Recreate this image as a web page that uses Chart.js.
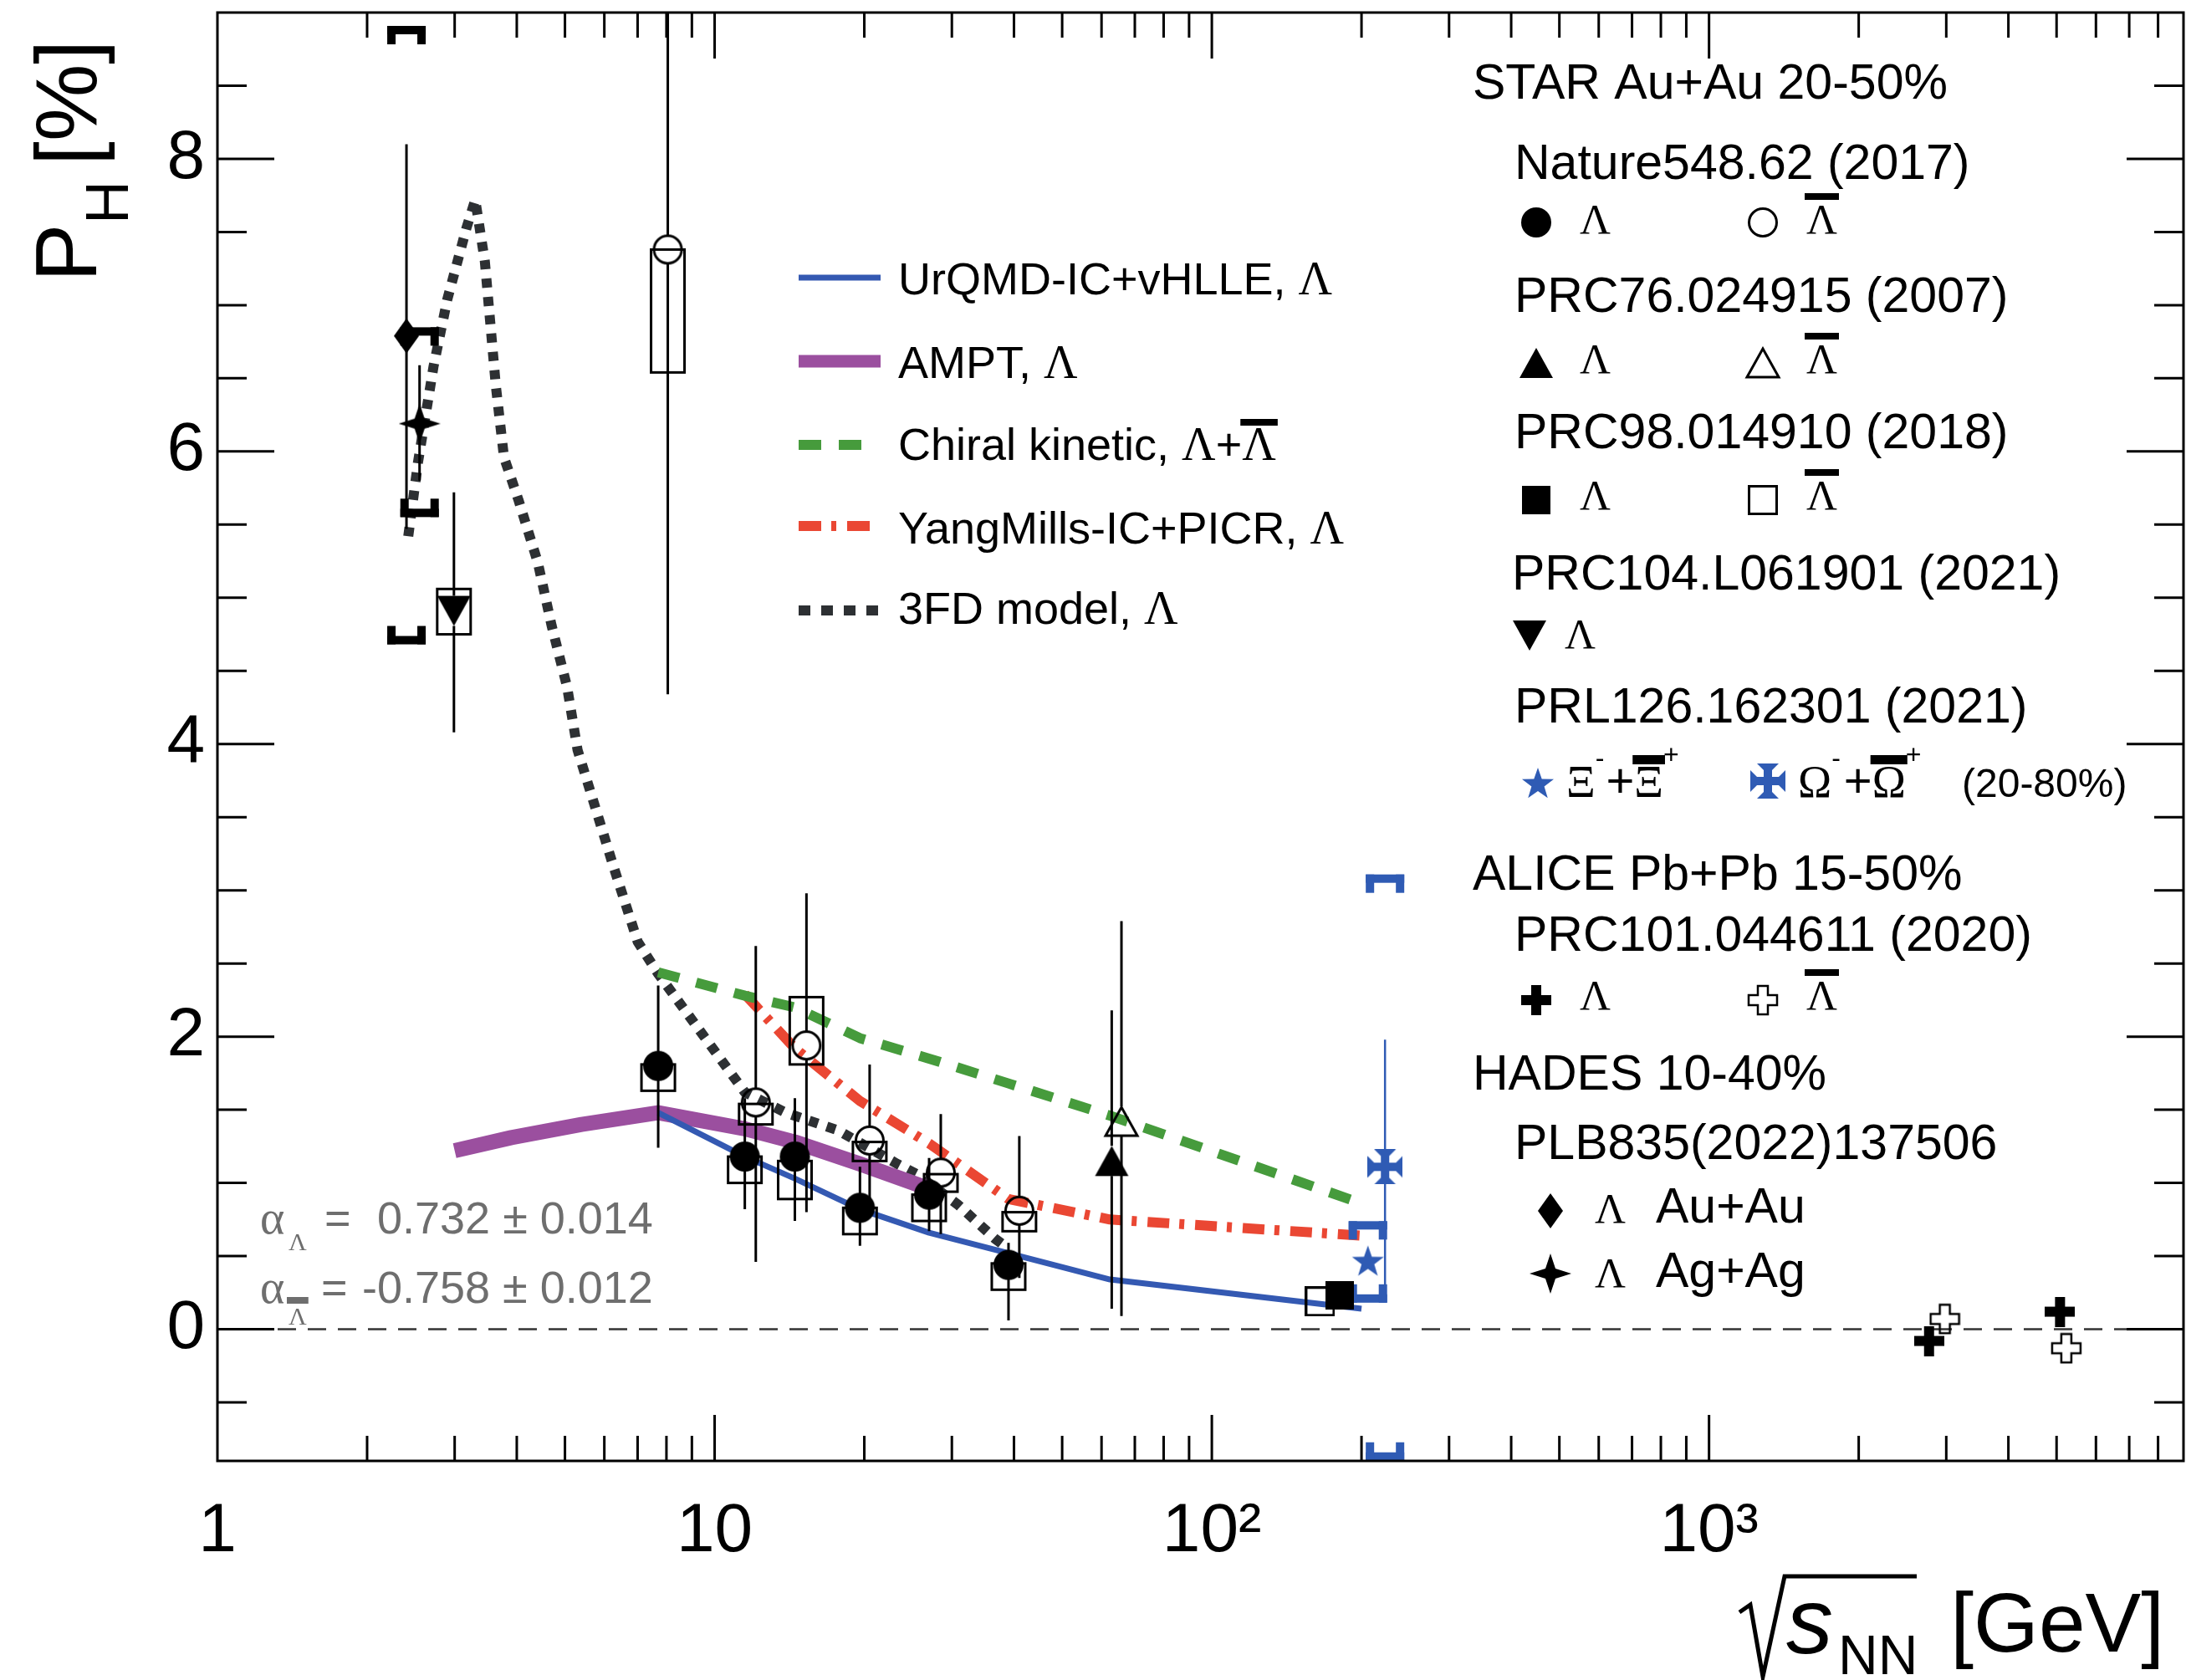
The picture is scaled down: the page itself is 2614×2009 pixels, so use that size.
<!DOCTYPE html>
<html>
<head>
<meta charset="utf-8">
<script src="https://cdn.jsdelivr.net/npm/chart.js@4.4.0/dist/chart.umd.min.js"></script>
<style>
  html, body { margin: 0; padding: 0; background: #fff; }
</style>
</head>
<body>
<canvas id="polChart" width="2614" height="2009"></canvas>
<script>
// ---------- data ----------
// STAR Au+Au 20-50%, Nature 548, 62 (2017)
const starLamX      = [7.7, 11.5, 14.5, 19.6, 27, 39];
const starLamY      = [1.80, 1.18, 1.18, 0.83, 0.92, 0.44];
const starLamStatLo = [1.24, 0.82, 0.74, 0.57, 0.67, 0.06];
const starLamStatHi = [2.35, 1.58, 1.58, 1.11, 1.17, 0.59];
const starLamSysLo  = [1.63, 1.00, 0.89, 0.65, 0.74, 0.27];
const starLamSysHi  = [1.81, 1.18, 1.15, 0.83, 0.92, 0.45];

const starBarX      = [8.05, 12.1, 15.3, 20.5, 28.5, 41];
const starBarY      = [7.38, 1.55, 1.94, 1.29, 1.07, 0.81];
const starBarStatLo = [4.34, 0.46, 0.80, 0.88, 0.65, 0.35];
const starBarStatHi = [10.4, 2.62, 2.98, 1.81, 1.47, 1.32];
const starBarSysLo  = [6.54, 1.40, 1.81, 1.15, 0.94, 0.67];
const starBarSysHi  = [7.38, 1.54, 2.27, 1.28, 1.06, 0.80];

// PRC76.024915 (2007), 62.4 GeV
const prc76LamX = [62.9], prc76LamY = [1.15], prc76LamLo = [0.14], prc76LamHi = [2.18];
const prc76BarX = [65.8], prc76BarY = [1.42], prc76BarLo = [0.09], prc76BarHi = [2.79];

// PRC98.014910 (2018), 200 GeV
const prc98LamX = [181], prc98LamY = [0.23];
const prc98BarX = [165], prc98BarY = [0.19];

// PRC104.L061901 (2021), 3 GeV
const prc104X = [2.99], prc104Y = [4.91], prc104StatLo = [4.08], prc104StatHi = [5.72];
const prc104SysLo = [4.75], prc104SysHi = [5.06];

// PRL126.162301 (2021), Xi and Omega
const xiX = [206], xiY = [0.47], xiSysLo = [0.21], xiSysHi = [0.71];
const omX = [223], omY = [1.11], omStatLo = [0.30], omStatHi = [1.98];
const omSysLo = [-0.87], omSysHi = [3.08];

// ALICE Pb+Pb 15-50%
const aliceLamX = [2770, 5080], aliceLamY = [-0.08, 0.12];
const aliceBarX = [2980, 5230], aliceBarY = [0.07, -0.13];

// HADES 10-40%
const hadesAuX = [2.4], hadesAuY = [6.79], hadesAuStatLo = [5.47], hadesAuStatHi = [8.10];
const hadesAuSysLo = [4.71], hadesAuSysHi = [8.88];
const hadesAgX = [2.55], hadesAgY = [6.19], hadesAgStatLo = [5.80], hadesAgStatHi = [6.59];
const hadesAgSysLo = [5.58], hadesAgSysHi = [6.82];

// model curves
const urqmdX = [7.7, 11.5, 14.5, 19.6, 27, 39, 62.4, 200];
const urqmdY = [1.48, 1.18, 1.03, 0.82, 0.66, 0.52, 0.34, 0.14];
const amptX = [3.0, 3.9, 5.4, 7.7, 11.5, 14.5, 19.6, 27];
const amptY = [1.22, 1.31, 1.40, 1.48, 1.37, 1.28, 1.13, 0.96];
const chiralX = [7.7, 11.5, 14.5, 19.6, 27, 39, 62.4, 200];
const chiralY = [2.44, 2.28, 2.20, 1.99, 1.85, 1.68, 1.46, 0.86];
const ymX = [11.5, 14.5, 19.6, 27, 39, 62.4, 200];
const ymY = [2.29, 1.92, 1.56, 1.27, 0.89, 0.75, 0.64];
const fdX = [2.42, 2.53, 2.72, 2.9, 3.17, 3.3, 3.45, 3.63, 3.77, 4.03, 4.41, 4.7, 5.05, 5.3,
             6.25, 7.0, 7.7, 11.5, 13.9, 17.7, 23.3, 25.5, 30.9, 36.6, 39];
const fdY = [5.42, 5.92, 6.58, 7.04, 7.53, 7.72, 7.3, 6.45, 5.96, 5.67, 5.24, 4.81, 4.39, 3.96,
             3.17, 2.65, 2.43, 1.62, 1.48, 1.36, 1.13, 1.06, 0.85, 0.62, 0.55];

// axes
const xTickVals = [1, 10, 100, 1000];
const xTickText = ['1', '10', '10\u00b2', '10\u00b3'];
const yTickVals = [0, 2, 4, 6, 8];

// ---------- styles ----------
const SANS = '"Liberation Sans", Arial, Helvetica, sans-serif';
const SERIF = '"Liberation Serif", "Times New Roman", serif';
const BLUE = '#2f5bb4';
const C_URQMD = '#3459b2', C_AMPT = '#9b4f9f', C_CHIRAL = '#469b3c', C_YM = '#ea4733', C_FD = '#2d3033';

function pts(xs, ys) { return xs.map((x, i) => ({ x: x, y: ys[i] })); }

function mk(w, h, paint) {
  const c = document.createElement('canvas');
  c.width = w; c.height = h;
  const g = c.getContext('2d');
  paint(g, w, h);
  return c;
}
function poly(g, p) {
  g.beginPath();
  g.moveTo(p[0][0], p[0][1]);
  for (let i = 1; i < p.length; i++) g.lineTo(p[i][0], p[i][1]);
  g.closePath();
}

const M = {
  fCircle: mk(38, 38, g => { g.fillStyle = '#000'; g.beginPath(); g.arc(19, 19, 18, 0, 2 * Math.PI); g.fill(); }),
  oCircle: mk(38, 38, g => { g.strokeStyle = '#000'; g.lineWidth = 3; g.beginPath(); g.arc(19, 19, 16.5, 0, 2 * Math.PI); g.stroke(); }),
  fTri: mk(42, 38, g => { g.fillStyle = '#000'; poly(g, [[21, 1], [41, 37], [1, 37]]); g.fill(); }),
  oTri: mk(44, 40, g => { g.strokeStyle = '#000'; g.lineWidth = 3; poly(g, [[22, 3], [41, 37], [3, 37]]); g.stroke(); }),
  fTriDown: mk(42, 38, g => { g.fillStyle = '#000'; poly(g, [[1, 1], [41, 1], [21, 37]]); g.fill(); }),
  fSquare: mk(34, 34, g => { g.fillStyle = '#000'; g.fillRect(0, 0, 34, 34); }),
  oSquare: mk(36, 36, g => { g.strokeStyle = '#000'; g.lineWidth = 3; g.strokeRect(1.5, 1.5, 33, 33); }),
  diamond: mk(30, 42, g => { g.fillStyle = '#000'; poly(g, [[15, 0], [30, 21], [15, 42], [0, 21]]); g.fill(); }),
  star4: mk(50, 48, g => {
    g.fillStyle = '#000';
    poly(g, [[25, 0], [31, 18], [50, 24], [31, 30], [25, 48], [19, 30], [0, 24], [19, 18]]);
    g.fill();
  }),
  xiStar: mk(40, 40, g => {
    const p = [];
    for (let k = 0; k < 10; k++) {
      const r = k % 2 === 0 ? 20 : 8;
      const a = -Math.PI / 2 + k * Math.PI / 5;
      p.push([20 + r * Math.cos(a), 22 + r * Math.sin(a)]);
    }
    g.fillStyle = BLUE; poly(g, p); g.fill();
  }),
  omCross: mk(42, 42, g => {
    g.fillStyle = BLUE;
    const arm = [[0, -5], [13, -5], [21, -13], [21, 13], [13, 5], [0, 5]];
    for (let k = 0; k < 4; k++) {
      const a = k * Math.PI / 2, c = Math.cos(a), s = Math.sin(a);
      poly(g, arm.map(q => [21 + q[0] * c - q[1] * s, 21 + q[0] * s + q[1] * c]));
      g.fill();
    }
  }),
  fCross: mk(36, 36, g => { g.fillStyle = '#000'; g.fillRect(12, 0, 12, 36); g.fillRect(0, 12, 36, 12); }),
  oCross: mk(38, 38, g => {
    g.strokeStyle = '#000'; g.lineWidth = 2.5;
    poly(g, [[13, 2], [25, 2], [25, 13], [36, 13], [36, 25], [25, 25], [25, 36], [13, 36], [13, 25], [2, 25], [2, 13], [13, 13]]);
    g.stroke();
  })
};

function markerSet(label, xs, ys, style, extra) {
  return Object.assign({
    label: label, data: pts(xs, ys), pointStyle: style, pointRadius: 12,
    showLine: false, order: 0
  }, extra || {});
}
function curve(label, xs, ys, color, width, dash) {
  return {
    label: label, data: pts(xs, ys), showLine: true, pointRadius: 0,
    borderColor: color, borderWidth: width, borderDash: dash, borderCapStyle: 'butt',
    borderJoinStyle: 'round', fill: false, tension: 0, order: 1
  };
}

// ---------- plugins ----------
function bracket(ctx, px, py, dir) {
  const hw = 23, t = 10, leg = 22;
  ctx.fillRect(px - hw, py - t / 2, 2 * hw, t);
  const y0 = dir > 0 ? py - t / 2 : py + t / 2 - leg;
  ctx.fillRect(px - hw, y0, t, leg);
  ctx.fillRect(px + hw - t, y0, t, leg);
}

const errorBars = {
  id: 'errorBars',
  beforeDatasetDraw(chart, args) {
    const ds = chart.data.datasets[args.index];
    if (!ds.statLo && !ds.sysLo) return;
    const { ctx, chartArea: a, scales: { x, y } } = chart;
    ctx.save();
    ctx.beginPath(); ctx.rect(a.left, a.top, a.right - a.left, a.bottom - a.top); ctx.clip();
    ctx.strokeStyle = ds.errColor || '#000';
    ctx.fillStyle = ds.errColor || '#000';
    ds.data.forEach((p, i) => {
      const px = x.getPixelForValue(p.x), py = y.getPixelForValue(p.y);
      if (ds.statLo) {
        const r = ds.gapR || 0;
        const yHi = y.getPixelForValue(ds.statHi[i]), yLo = y.getPixelForValue(ds.statLo[i]);
        ctx.lineWidth = ds.errWidth || 3;
        ctx.beginPath();
        if (yHi < py - r) { ctx.moveTo(px, yHi); ctx.lineTo(px, py - r); }
        if (yLo > py + r) { ctx.moveTo(px, py + r); ctx.lineTo(px, yLo); }
        ctx.stroke();
      }
      if (ds.sysLo) {
        const yHi = y.getPixelForValue(ds.sysHi[i]), yLo = y.getPixelForValue(ds.sysLo[i]);
        if (ds.sysStyle === 'bracket') {
          bracket(ctx, px, yHi, 1);
          bracket(ctx, px, yLo, -1);
        } else {
          ctx.lineWidth = 3;
          ctx.strokeRect(px - 20, yHi, 40, yLo - yHi);
        }
      }
    });
    ctx.restore();
  }
};

const frameTicks = {
  id: 'frameTicks',
  afterDatasetsDraw(chart) {
    const { ctx, chartArea: a, scales: { x, y } } = chart;
    ctx.save();
    ctx.strokeStyle = '#000';
    ctx.lineWidth = 3;
    ctx.strokeRect(a.left, a.top, a.right - a.left, a.bottom - a.top);
    ctx.beginPath();
    [1, 10, 100, 1000].forEach(d => {
      for (let k = 1; k <= 9; k++) {
        const v = k * d;
        if (v <= x.min || v >= x.max) continue;
        const px = x.getPixelForValue(v);
        const len = k === 1 ? 55 : 30;
        ctx.moveTo(px, a.bottom); ctx.lineTo(px, a.bottom - len);
        ctx.moveTo(px, a.top); ctx.lineTo(px, a.top + len);
      }
    });
    for (let v = -0.5; v < y.max - 1e-6; v += 0.5) {
      const py = y.getPixelForValue(v);
      const len = (Math.round(v * 2) % 4 === 0) ? 68 : 35;
      ctx.moveTo(a.left, py); ctx.lineTo(a.left + len, py);
      ctx.moveTo(a.right, py); ctx.lineTo(a.right - len, py);
    }
    ctx.stroke();
    ctx.restore();
  }
};

// text pieces drawn one after the other
function run(ctx, x, y, parts) {
  let cx = x;
  parts.forEach(p => {
    ctx.font = p.f;
    const yy = y + (p.dy || 0);
    ctx.fillText(p.t, cx, yy);
    const w = ctx.measureText(p.t).width;
    if (p.bar) ctx.fillRect(cx - 2, yy + p.bar[0], w + 4, p.bar[1]);
    cx += w + (p.gap || 0);
  });
  return cx;
}
function mark(ctx, m, x, y) { ctx.drawImage(m, x - m.width / 2, y - m.height / 2); }

const annotations = {
  id: 'annotations',
  afterDraw(chart) {
    const ctx = chart.ctx;
    ctx.save();
    ctx.textAlign = 'left';
    ctx.textBaseline = 'alphabetic';
    ctx.fillStyle = '#000';

    // y title
    ctx.save();
    ctx.translate(115, 337);
    ctx.rotate(-Math.PI / 2);
    ctx.font = '104px ' + SANS;
    ctx.fillText('P', 0, 0);
    ctx.font = '72px ' + SANS;
    ctx.fillText('H', 69, 38);
    ctx.font = '104px ' + SANS;
    ctx.fillText('[%]', 139, 0);
    ctx.restore();

    // x title
    ctx.lineWidth = 5;
    ctx.strokeStyle = '#000';
    ctx.beginPath();
    ctx.moveTo(2080, 1928); ctx.lineTo(2093, 1919); ctx.lineTo(2108, 2005);
    ctx.lineTo(2134, 1885); ctx.lineTo(2292, 1885);
    ctx.stroke();
    ctx.font = 'italic 112px ' + SANS;
    ctx.fillText('s', 2136, 1977);
    ctx.font = '66px ' + SANS;
    ctx.fillText('NN', 2198, 2002);
    ctx.font = '100px ' + SANS;
    ctx.textAlign = 'right';
    ctx.fillText('[GeV]', 2588, 1975);
    ctx.textAlign = 'left';

    // model legend
    const lg = [
      { c: C_URQMD, w: 7, d: [], y: 332, x2: 1053 },
      { c: C_AMPT, w: 15, d: [], y: 432, x2: 1053 },
      { c: C_CHIRAL, w: 12, d: [27, 21], y: 532, x2: 1031 },
      { c: C_YM, w: 12, d: [27, 12, 6, 13], y: 629, x2: 1041 },
      { c: C_FD, w: 12, d: [14, 13], y: 730, x2: 1054 }
    ];
    lg.forEach(l => {
      ctx.strokeStyle = l.c; ctx.lineWidth = l.w; ctx.setLineDash(l.d); ctx.lineCap = 'butt';
      ctx.beginPath(); ctx.moveTo(955, l.y); ctx.lineTo(l.x2, l.y); ctx.stroke();
    });
    ctx.setLineDash([]);
    const F53 = '54px ' + SANS, G56 = '56px ' + SERIF;
    run(ctx, 1074, 352, [{ t: 'UrQMD-IC+vHLLE, ', f: F53 }, { t: 'Λ', f: G56 }]);
    run(ctx, 1074, 452, [{ t: 'AMPT, ', f: F53 }, { t: 'Λ', f: G56 }]);
    run(ctx, 1074, 550, [{ t: 'Chiral kinetic, ', f: F53 }, { t: 'Λ', f: G56 }, { t: '+', f: F53 },
      { t: 'Λ', f: G56, bar: [-49, 8] }]);
    run(ctx, 1074, 650, [{ t: 'YangMills-IC+PICR, ', f: F53 }, { t: 'Λ', f: G56 }]);
    run(ctx, 1074, 746, [{ t: '3FD model, ', f: F53 }, { t: 'Λ', f: G56 }]);

    // data legend (right)
    const H = '59px ' + SANS, G = '51px ' + SERIF;
    const lam = (x, y) => run(ctx, x, y, [{ t: 'Λ', f: G }]);
    const lamBar = (x, y) => run(ctx, x, y, [{ t: 'Λ', f: G, bar: [-48, 8] }]);
    run(ctx, 1761, 118, [{ t: 'STAR Au+Au 20-50%', f: H }]);
    run(ctx, 1811, 214, [{ t: 'Nature548.62 (2017)', f: H }]);
    mark(ctx, M.fCircle, 1837, 266); lam(1889, 279);
    mark(ctx, M.oCircle, 2108, 266); lamBar(2160, 279);
    run(ctx, 1811, 373, [{ t: 'PRC76.024915 (2007)', f: H }]);
    mark(ctx, M.fTri, 1837, 434); lam(1889, 446);
    mark(ctx, M.oTri, 2108, 434); lamBar(2160, 446);
    run(ctx, 1811, 536, [{ t: 'PRC98.014910 (2018)', f: H }]);
    mark(ctx, M.fSquare, 1837, 598); lam(1889, 609);
    mark(ctx, M.oSquare, 2108, 598); lamBar(2160, 609);
    run(ctx, 1808, 705, [{ t: 'PRC104.L061901 (2021)', f: H }]);
    mark(ctx, M.fTriDown, 1829, 760); lam(1871, 775);
    run(ctx, 1811, 864, [{ t: 'PRL126.162301 (2021)', f: H }]);
    mark(ctx, M.xiStar, 1839, 936);
    const S30 = '32px ' + SANS, GX = '54px ' + SERIF, PL = '58px ' + SANS;
    run(ctx, 1873, 953, [{ t: 'Ξ', f: GX }, { t: '-', f: S30, dy: -36, gap: 2 }, { t: '+', f: PL },
      { t: 'Ξ', f: GX, bar: [-50, 11] }, { t: '+', f: S30, dy: -40 }]);
    mark(ctx, M.omCross, 2114, 934);
    run(ctx, 2150, 953, [{ t: 'Ω', f: GX }, { t: '-', f: S30, dy: -36, gap: 4 }, { t: '+', f: PL },
      { t: 'Ω', f: GX, bar: [-50, 11] }, { t: '+', f: S30, dy: -40 }]);
    run(ctx, 2346, 953, [{ t: '(20-80%)', f: '48px ' + SANS }]);
    run(ctx, 1761, 1064, [{ t: 'ALICE Pb+Pb 15-50%', f: H }]);
    run(ctx, 1811, 1137, [{ t: 'PRC101.044611 (2020)', f: H }]);
    mark(ctx, M.fCross, 1837, 1196); lam(1889, 1207);
    mark(ctx, M.oCross, 2108, 1196); lamBar(2160, 1207);
    run(ctx, 1761, 1303, [{ t: 'HADES 10-40%', f: H }]);
    run(ctx, 1811, 1386, [{ t: 'PLB835(2022)137506', f: H }]);
    mark(ctx, M.diamond, 1854, 1448); lam(1907, 1462);
    run(ctx, 1980, 1462, [{ t: 'Au+Au', f: H }]);
    mark(ctx, M.star4, 1854, 1523); lam(1907, 1539);
    run(ctx, 1980, 1539, [{ t: 'Ag+Ag', f: H }]);

    // decay parameters
    ctx.fillStyle = '#6e6e6e';
    const A = '54px ' + SANS;
    run(ctx, 311, 1475, [{ t: 'α', f: '56px ' + SERIF }]);
    run(ctx, 345, 1495, [{ t: 'Λ', f: '30px ' + SERIF }]);
    run(ctx, 388, 1475, [{ t: '=', f: A }]);
    run(ctx, 451, 1475, [{ t: '0.732 ± 0.014', f: A }]);
    run(ctx, 311, 1558, [{ t: 'α', f: '56px ' + SERIF }]);
    run(ctx, 345, 1584, [{ t: 'Λ', f: '30px ' + SERIF, bar: [-33, 8] }]);
    run(ctx, 384, 1558, [{ t: '=', f: A }]);
    run(ctx, 433, 1558, [{ t: '-0.758 ± 0.012', f: A }]);
    ctx.restore();
  }
};

// ---------- chart ----------
const ctx = document.getElementById('polChart').getContext('2d');

const polChart = new Chart(ctx, {
  type: 'scatter',
  data: {
    datasets: [
      markerSet('STAR Lambda', starLamX, starLamY, M.fCircle,
        { statLo: starLamStatLo, statHi: starLamStatHi, sysLo: starLamSysLo, sysHi: starLamSysHi, gapR: 17 }),
      markerSet('STAR AntiLambda', starBarX, starBarY, M.oCircle,
        { statLo: starBarStatLo, statHi: starBarStatHi, sysLo: starBarSysLo, sysHi: starBarSysHi, gapR: 17 }),
      markerSet('PRC76 Lambda', prc76LamX, prc76LamY, M.fTri, { statLo: prc76LamLo, statHi: prc76LamHi, gapR: 18 }),
      markerSet('PRC76 AntiLambda', prc76BarX, prc76BarY, M.oTri, { statLo: prc76BarLo, statHi: prc76BarHi, gapR: 18 }),
      markerSet('PRC98 Lambda', prc98LamX, prc98LamY, M.fSquare),
      markerSet('PRC98 AntiLambda', prc98BarX, prc98BarY, M.oSquare),
      markerSet('PRC104 Lambda', prc104X, prc104Y, M.fTriDown,
        { statLo: prc104StatLo, statHi: prc104StatHi, sysLo: prc104SysLo, sysHi: prc104SysHi, gapR: 18 }),
      markerSet('Xi', xiX, xiY, M.xiStar, { sysLo: xiSysLo, sysHi: xiSysHi, sysStyle: 'bracket', errColor: BLUE }),
      markerSet('Omega', omX, omY, M.omCross,
        { statLo: omStatLo, statHi: omStatHi, sysLo: omSysLo, sysHi: omSysHi, sysStyle: 'bracket',
          errColor: BLUE, errWidth: 2.5, gapR: 0 }),
      markerSet('ALICE Lambda', aliceLamX, aliceLamY, M.fCross),
      markerSet('ALICE AntiLambda', aliceBarX, aliceBarY, M.oCross),
      markerSet('HADES Au+Au', hadesAuX, hadesAuY, M.diamond,
        { statLo: hadesAuStatLo, statHi: hadesAuStatHi, sysLo: hadesAuSysLo, sysHi: hadesAuSysHi,
          sysStyle: 'bracket', gapR: 0 }),
      markerSet('HADES Ag+Ag', hadesAgX, hadesAgY, M.star4,
        { statLo: hadesAgStatLo, statHi: hadesAgStatHi, sysLo: hadesAgSysLo, sysHi: hadesAgSysHi,
          sysStyle: 'bracket', gapR: 0 }),
      curve('UrQMD-IC+vHLLE', urqmdX, urqmdY, C_URQMD, 7, []),
      curve('AMPT', amptX, amptY, C_AMPT, 18, []),
      curve('Chiral kinetic', chiralX, chiralY, C_CHIRAL, 12, [26, 21]),
      curve('YangMills-IC+PICR', ymX, ymY, C_YM, 12, [26, 12, 6, 13]),
      curve('3FD model', fdX, fdY, C_FD, 12, [11, 11]),
      Object.assign(curve('zero', [1, 9000], [0, 0], '#333', 2.5, [22, 14]), { order: 2 })
    ]
  },
  options: {
    responsive: false,
    devicePixelRatio: 1,
    animation: false,
    events: [],
    layout: { autoPadding: false, padding: { top: 15, right: 3, bottom: 0, left: 0 } },
    plugins: {
      legend: { display: false },
      tooltip: { enabled: false }
    },
    scales: {
      x: {
        type: 'logarithmic',
        position: 'bottom',
        min: 1,
        max: 9000,
        grid: { display: false, drawTicks: false },
        border: { display: false },
        ticks: {
          color: '#000',
          padding: 36,
          maxRotation: 0,
          autoSkip: false,
          font: { family: SANS, size: 82 },
          callback: function (value, index) { return xTickText[index]; }
        },
        afterBuildTicks: function (scale) { scale.ticks = xTickVals.map(v => ({ value: v })); },
        afterFit: function (scale) { scale.height = 262; scale.paddingLeft = 0; scale.paddingRight = 0; }
      },
      y: {
        type: 'linear',
        min: -0.9,
        max: 9.0,
        grid: { display: false, drawTicks: false },
        border: { display: false },
        ticks: {
          color: '#000',
          padding: 15,
          font: { family: SANS, size: 82 }
        },
        afterBuildTicks: function (scale) { scale.ticks = yTickVals.map(v => ({ value: v })); },
        afterFit: function (scale) { scale.width = 260; scale.paddingTop = 0; scale.paddingBottom = 0; }
      }
    }
  },
  plugins: [errorBars, frameTicks, annotations]
});
</script>
</body>
</html>
